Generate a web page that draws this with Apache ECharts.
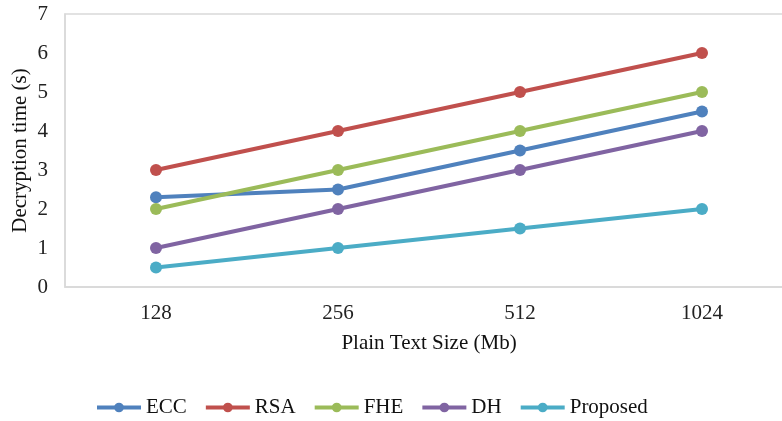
<!DOCTYPE html>
<html><head><meta charset="utf-8">
<script src="https://cdn.jsdelivr.net/npm/echarts@6/dist/echarts.min.js"></script>
<style>html,body{margin:0;padding:0;background:#fff;overflow:hidden}#c{width:800px;height:421px}</style>
</head><body><div id="c"></div>
<script>
const categories = ['128', '256', '512', '1024'];
const ecc = [2.3, 2.5, 3.5, 4.5];
const rsa = [3, 4, 5, 6];
const fhe = [2, 3, 4, 5];
const dh = [1, 2, 3, 4];
const proposed = [0.5, 1, 1.5, 2];
const seriesNames = ['ECC', 'RSA', 'FHE', 'DH', 'Proposed'];
const seriesData = [ecc, rsa, fhe, dh, proposed];
const colors = ['#4F81BD', '#C0504D', '#9BBB59', '#8064A2', '#4BACC6'];
const font = '"Liberation Serif", "Times New Roman", serif';

const chart = echarts.init(document.getElementById('c'));
chart.setOption({
  animation: false,
  textStyle: { fontFamily: font },
  grid: { left: 65, right: 7, top: 14, bottom: 134, show: true, borderColor: '#d9d9d9', borderWidth: 1.5, containLabel: false, outerBoundsMode: 'none' },
  legend: {
    top: 392, left: 90,
    itemWidth: 44, itemHeight: 12, itemGap: 17,
    textStyle: { fontFamily: font, fontSize: 21, color: '#111' },
    lineStyle: { width: 4 },
    data: seriesNames
  },
  xAxis: {
    type: 'category', data: categories,
    axisLine: { lineStyle: { color: '#d9d9d9', width: 1.5 } },
    axisTick: { show: false },
    axisLabel: { fontFamily: font, fontSize: 21, color: '#222', margin: 16 },
    name: 'Plain Text Size (Mb)', nameLocation: 'middle', nameGap: 46, nameMoveOverlap: false,
    nameTextStyle: { fontFamily: font, fontSize: 21, color: '#111' }
  },
  yAxis: {
    type: 'value', min: 0, max: 7, interval: 1,
    splitLine: { show: false },
    axisLine: { show: true, lineStyle: { color: '#d9d9d9', width: 1.5 } },
    axisLabel: { fontFamily: font, fontSize: 21, color: '#222', margin: 17 },
    name: 'Decryption time (s)', nameLocation: 'middle', nameGap: 34, nameMoveOverlap: false,
    nameTextStyle: { fontFamily: font, fontSize: 21, color: '#111' }
  },
  series: seriesNames.map((n, i) => ({
    name: n, type: 'line', data: seriesData[i],
    symbol: 'circle', symbolSize: 12,
    itemStyle: { color: colors[i] },
    lineStyle: { color: colors[i], width: 4 }
  }))
});
</script></body></html>
